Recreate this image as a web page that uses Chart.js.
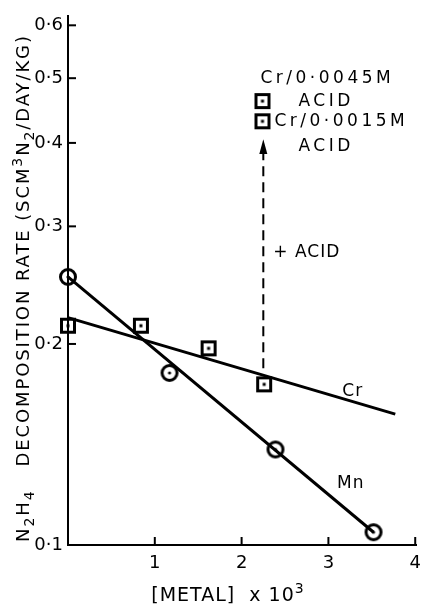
<!DOCTYPE html>
<html>
<head>
<meta charset="utf-8">
<script src="https://cdn.jsdelivr.net/npm/chart.js@4.4.1/dist/chart.umd.min.js"></script>
<style>
  html, body { margin: 0; padding: 0; background: #fff; }
  #chart { display: block; }
</style>
</head>
<body>
<canvas id="chart" width="429" height="608"></canvas>
<script>
// Mn series (circles)
const mnX = [0, 1.17, 2.39, 3.52];
const mnY = [0.252, 0.181, 0.139, 0.1045];
// Cr series (squares)
const crX = [0, 0.84, 1.62, 2.26];
const crY = [0.213, 0.213, 0.197, 0.174];
// Cr with acid added (squares at the top)
const acidX = [2.24, 2.24];
const acidY = [0.462, 0.431];
// fitted lines
const mnFitX = [0, 3.52];
const mnFitY = [0.252, 0.1045];
const crFitX = [0, 3.77];
const crFitY = [0.219, 0.157];
// dashed "+ ACID" arrow
const arrowX = [2.25, 2.25];
const arrowY = [0.184, 0.385];
const arrowTip = 0.405;
// ticks
const xTicks = [1, 2, 3, 4];
const yTicks = [0.1, 0.2, 0.3, 0.4, 0.5, 0.6];

const pts = (xs, ys) => xs.map((x, i) => ({ x: x, y: ys[i] }));

function squareMark() {
    const c = document.createElement('canvas');
    c.width = 18; c.height = 18;
    const g = c.getContext('2d');
    g.lineWidth = 3;
    g.strokeStyle = '#000';
    g.strokeRect(2.5, 2.5, 13, 13);
    g.fillStyle = '#000';
    g.fillRect(7.5, 7.5, 3, 3);
    return c;
}

function circleMark() {
    const c = document.createElement('canvas');
    c.width = 20; c.height = 20;
    const g = c.getContext('2d');
    g.lineWidth = 3;
    g.strokeStyle = '#000';
    g.beginPath();
    g.arc(10, 10, 7.5, 0, Math.PI * 2);
    g.stroke();
    g.fillStyle = '#000';
    g.beginPath();
    g.arc(10, 10, 1.6, 0, Math.PI * 2);
    g.fill();
    return c;
}

const sq = squareMark();
const ci = circleMark();

// draw text pieces with sub/superscripts
function drawRich(ctx, parts, size) {
    let w = 0;
    parts.forEach(p => {
        ctx.font = (p.s ? Math.round(size * 0.75) : size) + 'px "DejaVu Sans"';
        w += ctx.measureText(p.t).width;
    });
    let x = -w / 2;
    parts.forEach(p => {
        ctx.font = (p.s ? Math.round(size * 0.75) : size) + 'px "DejaVu Sans"';
        const dy = p.s === 'sub' ? size * 0.3 : p.s === 'sup' ? -size * 0.4 : 0;
        ctx.fillText(p.t, x, dy);
        x += ctx.measureText(p.t).width;
    });
}

const extras = {
    id: 'extras',
    afterDraw(chart) {
        const ctx = chart.ctx;
        const xs = chart.scales.x, ys = chart.scales.y;
        const area = chart.chartArea;
        ctx.save();
        ctx.strokeStyle = '#000';
        ctx.fillStyle = '#000';
        ctx.lineWidth = 2;
        // inside tick marks
        yTicks.slice(1).forEach(v => {
            const py = ys.getPixelForValue(v);
            ctx.beginPath();
            ctx.moveTo(area.left, py);
            ctx.lineTo(area.left + 8, py);
            ctx.stroke();
        });
        xTicks.forEach(v => {
            const px = xs.getPixelForValue(v);
            ctx.beginPath();
            ctx.moveTo(px, area.bottom);
            ctx.lineTo(px, area.bottom - 8);
            ctx.stroke();
        });

        // arrow head
        const ax = xs.getPixelForValue(arrowX[1]);
        const ab = ys.getPixelForValue(arrowY[1]);
        const at = ys.getPixelForValue(arrowTip);
        ctx.beginPath();
        ctx.moveTo(ax, at);
        ctx.lineTo(ax - 4, ab);
        ctx.lineTo(ax + 4, ab);
        ctx.closePath();
        ctx.fill();

        // annotations
        ctx.textBaseline = 'middle';
        ctx.textAlign = 'left';
        ctx.letterSpacing = '3.5px';
        ctx.font = '17px "DejaVu Sans"';
        const tx = xs.getPixelForValue(acidX[0]);
        ctx.fillText('Cr/0·0045M', tx - 2, ys.getPixelForValue(0.5));
        ctx.fillText('ACID', tx + 36, ys.getPixelForValue(acidY[0]));
        ctx.fillText('Cr/0·0015M', tx + 12, ys.getPixelForValue(acidY[1]));
        ctx.fillText('ACID', tx + 36, ys.getPixelForValue(0.395));
        ctx.letterSpacing = '1px';
        ctx.fillText('+ ACID', ax + 10, ys.getPixelForValue(0.274));
        ctx.fillText('Cr', xs.getPixelForValue(3.16), ys.getPixelForValue(0.170));
        ctx.fillText('Mn', xs.getPixelForValue(3.10), ys.getPixelForValue(0.1237));
        ctx.letterSpacing = '0px';

        // axis titles
        ctx.textAlign = 'left';
        ctx.textBaseline = 'alphabetic';
        ctx.save();
        ctx.translate(29, 288);
        ctx.rotate(-Math.PI / 2);
        ctx.letterSpacing = '1.9px';
        drawRich(ctx, [
            { t: 'N' }, { t: '2', s: 'sub' }, { t: 'H' }, { t: '4', s: 'sub' },
            { t: '   DECOMPOSITION RATE (SCM' }, { t: '3', s: 'sup' },
            { t: 'N' }, { t: '2', s: 'sub' }, { t: '/DAY/KG)' }
        ], 18);
        ctx.restore();
        ctx.save();
        ctx.translate(228, 601);
        ctx.letterSpacing = '1px';
        drawRich(ctx, [{ t: '[METAL]  x 10' }, { t: '3', s: 'sup' }], 19);
        ctx.restore();
        ctx.restore();
    }
};

new Chart(document.getElementById('chart'), {
    type: 'scatter',
    data: {
        datasets: [
            {
                label: 'Mn fit', data: pts(mnFitX, mnFitY), showLine: true,
                borderColor: '#000', borderWidth: 3, pointRadius: 0
            },
            {
                label: 'Cr fit', data: pts(crFitX, crFitY), showLine: true,
                borderColor: '#000', borderWidth: 3, pointRadius: 0
            },
            {
                label: 'acid arrow', data: pts(arrowX, arrowY), showLine: true,
                borderColor: '#000', borderWidth: 2, borderDash: [10, 6], pointRadius: 0
            },
            { label: 'Mn', data: pts(mnX, mnY), pointStyle: ci, pointRadius: 10 },
            { label: 'Cr', data: pts(crX, crY), pointStyle: sq, pointRadius: 9 },
            { label: 'Cr + acid', data: pts(acidX, acidY), pointStyle: sq, pointRadius: 9 }
        ]
    },
    options: {
        responsive: false,
        devicePixelRatio: 1,
        animation: false,
        clip: false,
        layout: { padding: { top: 13, right: 6, left: 0, bottom: 0 } },
        plugins: { legend: { display: false }, tooltip: { enabled: false } },
        scales: {
            x: {
                type: 'linear', min: 0, max: 4.02,
                afterFit: s => { s.height = 63; },
                afterBuildTicks: s => { s.ticks = xTicks.map(v => ({ value: v })); },
                grid: { drawOnChartArea: false, drawTicks: false },
                border: { color: '#000', width: 2 },
                ticks: {
                    color: '#000', padding: 8,
                    font: { family: 'DejaVu Sans', size: 18 }
                }
            },
            y: {
                type: 'logarithmic', min: 0.1, max: 0.62,
                afterFit: s => { s.width = 68; },
                afterBuildTicks: s => { s.ticks = yTicks.map(v => ({ value: v })); },
                grid: { drawOnChartArea: false, drawTicks: false },
                border: { color: '#000', width: 2 },
                ticks: {
                    color: '#000', padding: 5,
                    font: { family: 'DejaVu Sans', size: 18 },
                    callback: v => v.toFixed(1).replace('.', '·')
                }
            }
        }
    },
    plugins: [extras]
});
</script>
</body>
</html>
